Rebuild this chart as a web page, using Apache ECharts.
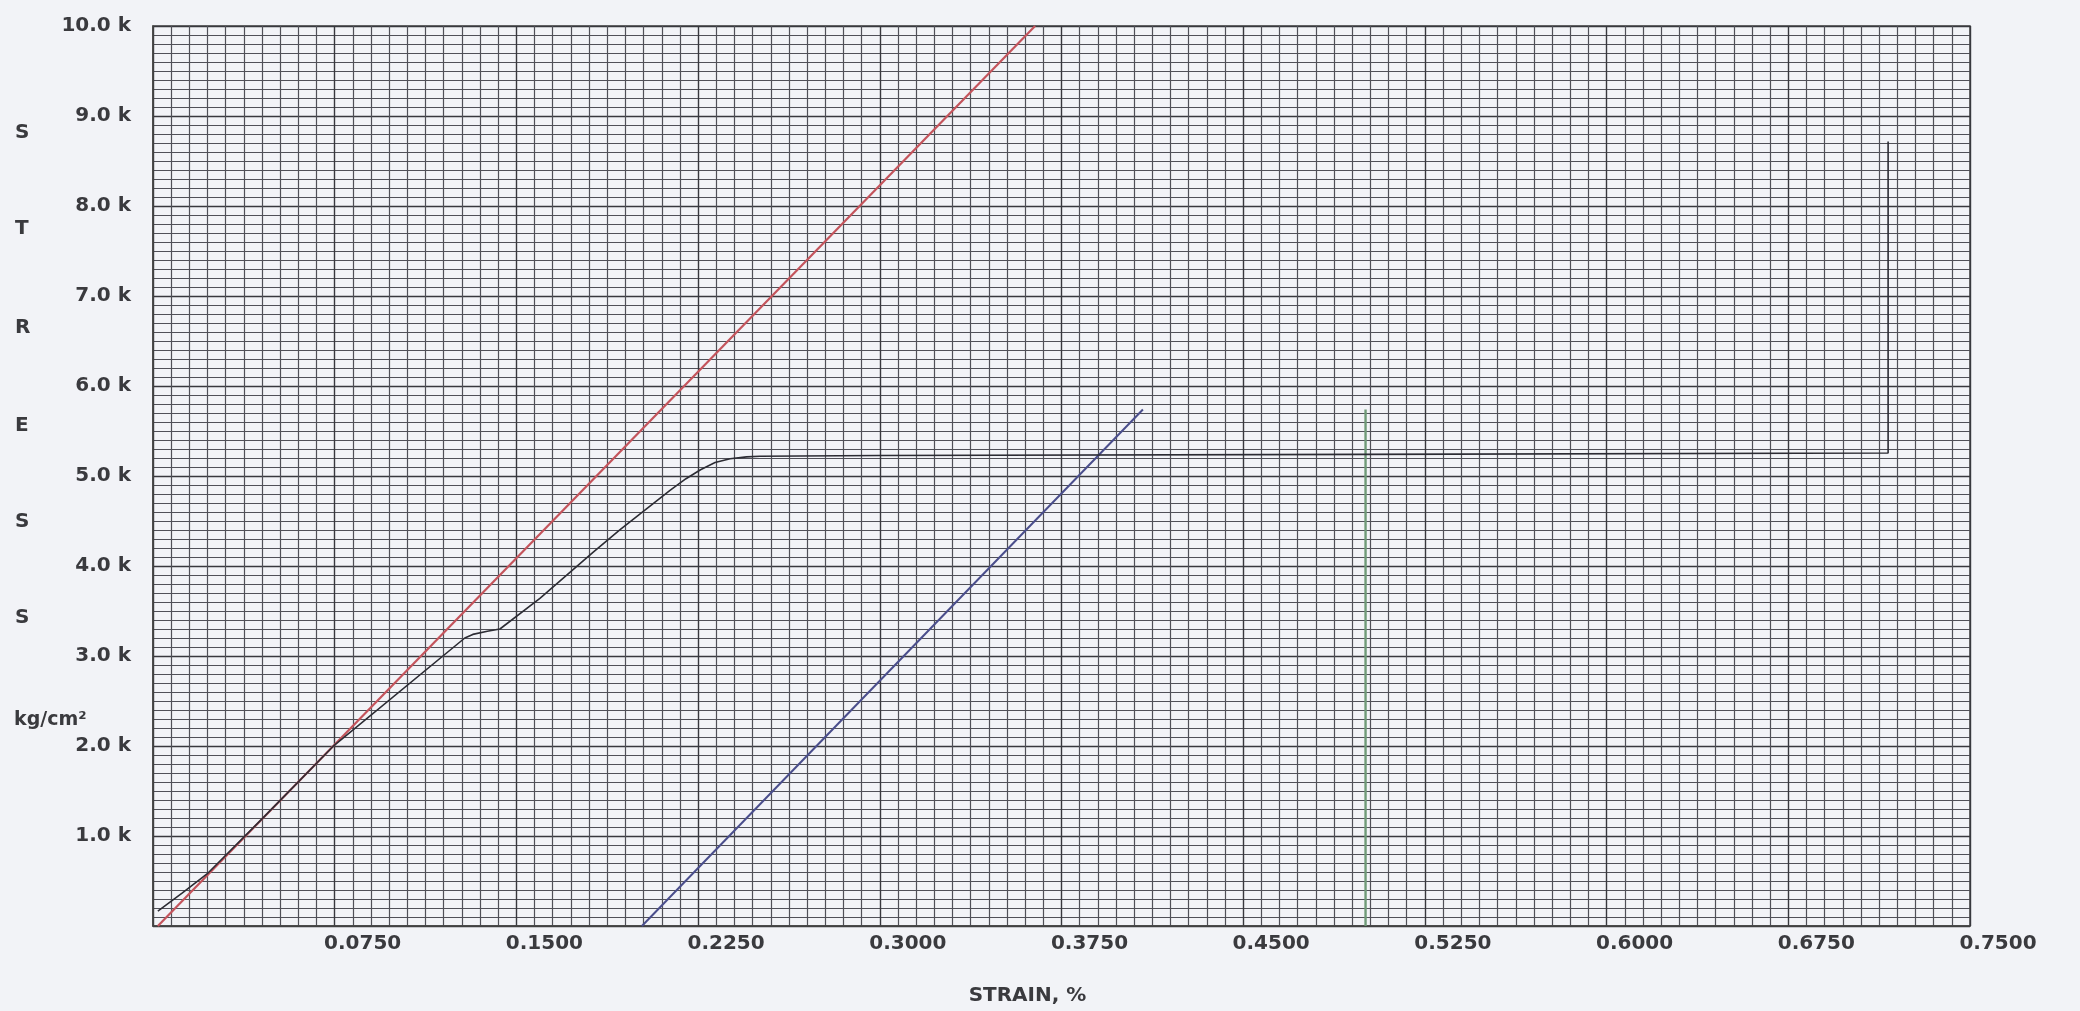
<!DOCTYPE html>
<html>
<head>
<meta charset="utf-8">
<title>Stress / Strain</title>
<script src="https://cdn.jsdelivr.net/npm/echarts@6/dist/echarts.min.js"></script>
<style>
  html, body { margin: 0; padding: 0; background: #f2f3f7; }
  #chart { width: 2080px; height: 1011px; }
</style>
</head>
<body>
<div id="chart"></div>
<script>
// values (strain %, stress kg/cm2)
var loadCurve = [
  [0.002, 165], [0.012, 365], [0.0223, 578], [0.045, 1190], [0.0743, 1995],
  [0.1287, 3200], [0.132, 3240], [0.138, 3275], [0.1432, 3300], [0.1597, 3640],
  [0.1816, 4151], [0.1928, 4403], [0.2134, 4841], [0.220, 4970], [0.226, 5070],
  [0.232, 5150], [0.2382, 5192], [0.245, 5212], [0.2505, 5220], [0.30, 5228],
  [0.50, 5240], [0.7162, 5255], [0.7162, 8718]
]
var modulusLine = [[0.002, 0], [0.3641, 10000]]
var offsetLine = [[0.2018, 0], [0.4086, 5739]]
var markerLine = [[0.5005, 0], [0.5005, 5739]]
var yAxisLetters = ['S', 'T', 'R', 'E', 'S', 'S']
var yUnit = 'kg/cm²'
var xTitle = 'STRAIN, %'

var labelFont = {
  color: '#3a3a3e',
  fontFamily: 'DejaVu Sans',
  fontWeight: 'bold',
  fontSize: 20
}

var letterY = [134, 230, 329, 427, 523, 619]
var graphics = yAxisLetters.map(function (ch, i) {
  return {
    type: 'text',
    left: 15,
    top: letterY[i] - 11,
    style: { text: ch, fill: '#3a3a3e', font: 'bold 20px "DejaVu Sans"' }
  }
})
graphics.push({
  type: 'text',
  left: 14,
  top: 711,
  style: { text: yUnit, fill: '#3a3a3e', font: 'bold 19px "DejaVu Sans"' }
})

var chart = echarts.init(document.getElementById('chart'))
var option = {
  backgroundColor: '#f2f3f7',
  animation: false,
  graphic: graphics,
  grid: {
    left: 153,
    right: 110,
    top: 26,
    bottom: 72,
    show: true,
    borderColor: '#444',
    borderWidth: 1.5
  },
  xAxis: {
    type: 'value',
    min: 0,
    max: 0.75,
    interval: 0.075,
    name: xTitle,
    nameLocation: 'middle',
    nameGap: 60,
    nameTextStyle: Object.assign({ padding: [0, 68, 0, 0] }, labelFont),
    axisLine: { show: true, lineStyle: { color: '#444', width: 1.5 } },
    axisTick: { show: false },
    axisLabel: Object.assign({
      margin: 8,
      padding: [0, 0, 0, 56],
      formatter: function (v) { return v === 0 ? '' : v.toFixed(4) }
    }, labelFont),
    splitLine: { show: true, lineStyle: { color: '#38383e', width: 1.4 } },
    minorTick: { show: false, splitNumber: 10 },
    minorSplitLine: { show: true, lineStyle: { color: '#505058', width: 1.2 } }
  },
  yAxis: {
    type: 'value',
    min: 0,
    max: 10000,
    interval: 1000,
    axisLine: { show: true, lineStyle: { color: '#444', width: 1.5 } },
    axisTick: { show: false },
    axisLabel: Object.assign({
      margin: 22,
      formatter: function (v) { return v === 0 ? '' : (v / 1000).toFixed(1) + ' k' }
    }, labelFont),
    splitLine: { show: true, lineStyle: { color: '#38383e', width: 1.4 } },
    minorTick: { show: false, splitNumber: 10 },
    minorSplitLine: { show: true, lineStyle: { color: '#505058', width: 1.2 } }
  },
  series: [
    {
      name: 'modulus',
      type: 'line',
      data: modulusLine,
      symbol: 'none',
      z: 3,
      lineStyle: { color: '#c4545c', width: 2.2 }
    },
    {
      name: 'load',
      type: 'line',
      data: loadCurve,
      symbol: 'none',
      z: 4,
      lineStyle: { color: '#2c2c34', width: 1.6 }
    },
    {
      name: 'offset',
      type: 'line',
      data: offsetLine,
      symbol: 'none',
      z: 3,
      lineStyle: { color: '#4a4e8c', width: 2 }
    },
    {
      name: 'marker',
      type: 'line',
      data: markerLine,
      symbol: 'none',
      z: 3,
      lineStyle: { color: '#6f9a78', width: 2.4 }
    }
  ]
}
chart.setOption(option)
</script>
</body>
</html>
